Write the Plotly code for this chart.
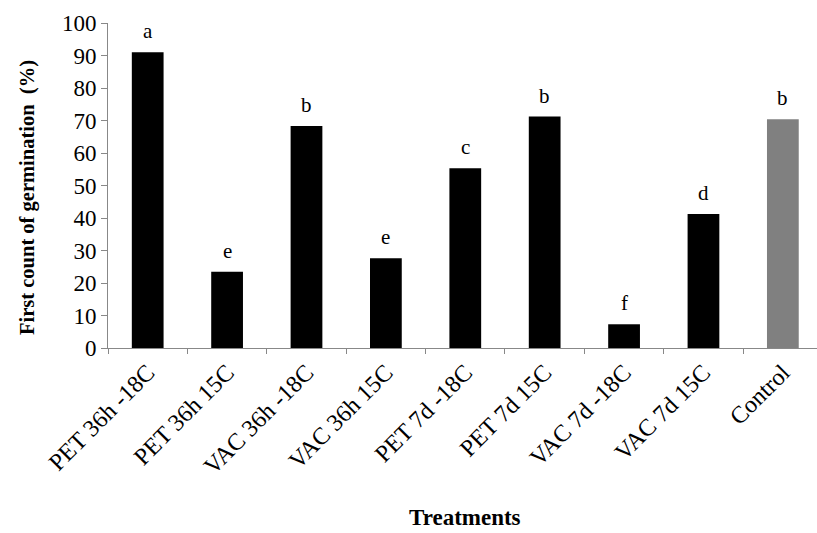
import plotly.graph_objects as go

categories = ["PET 36h -18C", "PET 36h 15C", "VAC 36h -18C", "VAC 36h 15C",
              "PET 7d -18C", "PET 7d 15C", "VAC 7d -18C", "VAC 7d 15C", "Control"]
values = [91, 23.5, 68.3, 27.6, 55.3, 71.2, 7.3, 41.2, 70.4]
letters = ["a", "e", "b", "e", "c", "b", "f", "d", "b"]
colors = ["#000000"] * 8 + ["#808080"]

FONT = "Liberation Serif, Times New Roman, serif"

fig = go.Figure()
fig.add_trace(go.Bar(x=categories, y=values, marker_color=colors,
                     marker_line_width=0, width=0.4))

for c, v, l in zip(categories, values, letters):
    fig.add_annotation(x=c, y=v, text=l, showarrow=False, yanchor="bottom",
                       yshift=7, font=dict(family=FONT, size=21, color="#000"))

fig.add_annotation(xref="paper", yref="paper", x=(465 - 108) / 709, y=(348 - 517) / 325,
                   text="<b>Treatments</b>", showarrow=False, xanchor="center",
                   yanchor="middle", font=dict(family=FONT, size=23, color="#000"))
fig.add_annotation(xref="paper", yref="paper", x=(27 - 108) / 709, y=(348 - 198) / 325,
                   text="<b>First count of germination  (%)</b>", showarrow=False,
                   textangle=-90, xanchor="center", yanchor="middle",
                   font=dict(family=FONT, size=20.5, color="#000"))

fig.update_layout(
    width=817, height=533,
    margin=dict(l=108, r=0, t=23, b=185),
    plot_bgcolor="white", paper_bgcolor="white",
    showlegend=False,
    font=dict(family=FONT, size=21, color="#000"),
    xaxis=dict(
        range=[-0.5, 8.43], tickangle=-45, tickson="boundaries", automargin=False,
        ticks="outside", ticklen=5, tickcolor="#888", showline=True,
        linecolor="#888", linewidth=1, showgrid=False,
        tickfont=dict(family=FONT, size=24, color="#000"),
    ),
    yaxis=dict(
        range=[0, 100], dtick=10, ticks="outside", ticklen=6, tickcolor="#888",
        showline=True, linecolor="#888", linewidth=1, showgrid=False,
        zeroline=False, automargin=False,
        tickfont=dict(family=FONT, size=23, color="#000"),
    ),
)

fig.write_html("out.html")
